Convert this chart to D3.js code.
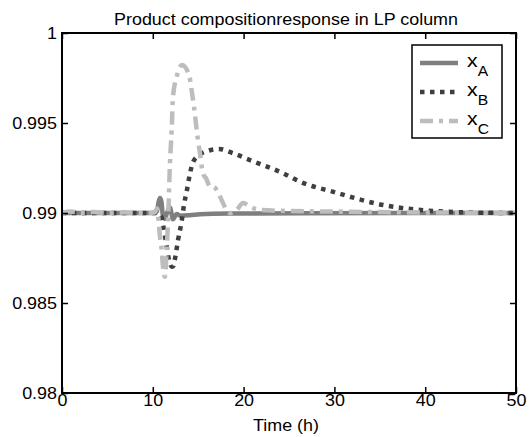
<!DOCTYPE html>
<html>
<head>
<meta charset="utf-8">
<script src="https://cdn.jsdelivr.net/npm/d3@7"></script>
<style>
  html, body { margin: 0; padding: 0; background: #fff; }
  text { font-family: "Liberation Sans", Arial, sans-serif; fill: #000; }
</style>
</head>
<body>
<div id="chart"></div>
<script>
// data
const xTicks = [0, 10, 20, 30, 40, 50];
const yTicks = [0.98, 0.985, 0.99, 0.995, 1];
const yTickLabels = ["0.98", "0.985", "0.99", "0.995", "1"];
const seriesNames = ["A", "B", "C"];

const tA = [0, 5, 10.2, 10.46, 10.63, 10.79, 10.96, 11.12, 11.34, 11.56, 11.89, 12.22, 12.63, 13.0, 14.1, 15.2, 18.5, 26.2, 50];
const xA = [0.99, 0.99, 0.99, 0.9901, 0.9906, 0.99083, 0.9906, 0.9898, 0.98968, 0.99, 0.9903, 0.98965, 0.98995, 0.98985, 0.98988, 0.98993, 0.98997, 0.98999, 0.99];

const tB = [0, 10.4, 10.8, 11.0, 11.15, 11.35, 11.55, 11.7, 11.9, 12.08, 12.25, 12.44, 12.78, 13.18, 13.45, 13.73, 14.1, 14.43, 15.2, 16.1, 17.3, 18.8, 20.7, 24.3, 26.2, 29.9, 35.4, 40.9, 45, 50];
const xB = [0.99, 0.99, 0.9899, 0.9897, 0.9893, 0.9887, 0.9881, 0.9876, 0.9872, 0.98702, 0.98705, 0.98745, 0.9885, 0.98955, 0.9905, 0.9912, 0.9922, 0.99283, 0.99325, 0.99346, 0.99356, 0.99333, 0.99294, 0.99222, 0.99174, 0.99117, 0.99044, 0.99011, 0.99003, 0.99];

const tC = [0, 1, 2, 3.5, 5, 7, 9, 10.2, 10.46, 10.79, 10.98, 11.12, 11.34, 11.53, 11.71, 11.89, 12.08, 12.22, 12.63, 13.22, 14.04, 14.28, 14.54, 14.76, 14.98, 15.2, 15.39, 15.6, 15.85, 16.3, 16.7, 17.04, 17.4, 18.14, 18.5, 19.24, 19.93, 20.7, 21.8, 25, 30, 35, 40, 50];
const xC = [0.99, 0.99008, 0.99002, 0.99006, 0.99, 0.99003, 0.99, 0.99003, 0.99025, 0.98868, 0.98794, 0.98702, 0.98646, 0.98794, 0.99, 0.99278, 0.99461, 0.99646, 0.99757, 0.99822, 0.99757, 0.9968, 0.99589, 0.99494, 0.99402, 0.9933, 0.99256, 0.9921, 0.99195, 0.99146, 0.99145, 0.99128, 0.99091, 0.99017, 0.99, 0.99017, 0.99056, 0.99035, 0.99017, 0.99011, 0.99008, 0.99005, 0.99003, 0.99];

const W = 529, H = 437;
const margin = {top: 33, right: 13, bottom: 44, left: 62};
const stretch = 1.12;

const svg = d3.select("#chart").append("svg")
  .attr("width", W)
  .attr("height", H);

const x = d3.scaleLinear().domain([0, 50]).range([margin.left, W - margin.right]);
const y = d3.scaleLinear().domain([0.98, 1]).range([H - margin.bottom, margin.top]);

const styles = {
  A: {color: "#7f7f7f", width: 4.5, dash: null},
  B: {color: "#3f3f3f", width: 4.5, dash: "4.5,5.5"},
  C: {color: "#bdbdbd", width: 4.5, dash: "13,6,4,6"}
};

svg.append("clipPath").attr("id", "plot-clip")
  .append("rect")
  .attr("x", x(0)).attr("y", y(1))
  .attr("width", x(50) - x(0)).attr("height", y(0.98) - y(1));

const line = d3.line()
  .x(d => x(d[0]))
  .y(d => y(d[1]))
  .curve(d3.curveMonotoneX);

const series = [
  {name: "A", data: d3.zip(tA, xA)},
  {name: "B", data: d3.zip(tB, xB)},
  {name: "C", data: d3.zip(tC, xC)}
];

svg.append("g").attr("clip-path", "url(#plot-clip)")
  .selectAll("path")
  .data(series)
  .enter().append("path")
  .attr("d", d => line(d.data))
  .attr("fill", "none")
  .attr("stroke", d => styles[d.name].color)
  .attr("stroke-width", d => styles[d.name].width)
  .attr("stroke-dasharray", d => styles[d.name].dash);

// axes, ticks inward on all four sides
const xAxis = d3.axisBottom(x).tickValues(xTicks).tickSize(-6).tickSizeOuter(0).tickPadding(1.5);
const yAxis = d3.axisLeft(y).tickValues(yTicks).tickSize(-6).tickSizeOuter(0).tickPadding(4.5)
  .tickFormat((d, i) => yTickLabels[i]);

const gx = svg.append("g")
  .attr("transform", "translate(0," + y(0.98) + ")")
  .call(xAxis);
const gy = svg.append("g")
  .attr("transform", "translate(" + x(0) + ",0)")
  .call(yAxis);
svg.append("g")
  .attr("transform", "translate(0," + y(1) + ")")
  .call(d3.axisTop(x).tickValues(xTicks).tickSize(-6).tickSizeOuter(0).tickFormat(""));
svg.append("g")
  .attr("transform", "translate(" + x(50) + ",0)")
  .call(d3.axisRight(y).tickValues(yTicks).tickSize(-6).tickSizeOuter(0).tickFormat(""));

svg.selectAll(".domain").remove();
svg.selectAll(".tick line").attr("stroke", "#000").attr("stroke-width", 1.5);
svg.selectAll(".tick text")
  .attr("font-size", 16)
  .attr("font-family", "'Liberation Sans', Arial, sans-serif")
  .attr("fill", "#000")
  .attr("transform", "scale(" + stretch + ",1)");

svg.append("rect")
  .attr("x", x(0)).attr("y", y(1))
  .attr("width", x(50) - x(0)).attr("height", y(0.98) - y(1))
  .attr("fill", "none")
  .attr("stroke", "#000")
  .attr("stroke-width", 2);

// title and axis label
function stretchedText(px, py, str, size) {
  return svg.append("text")
    .attr("transform", "translate(" + px + "," + py + ") scale(" + stretch + ",1)")
    .attr("text-anchor", "middle")
    .attr("font-size", size)
    .text(str);
}
stretchedText((x(0) + x(50)) / 2 - 3, 25, "Product compositionresponse in LP column", 16);
stretchedText((x(0) + x(50)) / 2 - 3, 431, "Time (h)", 16);

// legend
const legend = svg.append("g");
legend.append("rect")
  .attr("x", 412).attr("y", 45)
  .attr("width", 90).attr("height", 93)
  .attr("fill", "#fff")
  .attr("stroke", "#000")
  .attr("stroke-width", 1.5);

const legendItem = legend.selectAll(".item")
  .data(seriesNames)
  .enter().append("g")
  .attr("class", "item")
  .attr("transform", (d, i) => "translate(0," + (63 + i * 29) + ")");

legendItem.append("line")
  .attr("x1", 420).attr("x2", 458)
  .attr("y1", 0).attr("y2", 0)
  .attr("stroke", d => styles[d].color)
  .attr("stroke-width", d => styles[d].width)
  .attr("stroke-dasharray", d => styles[d].dash);

const lt = legendItem.append("text")
  .attr("transform", "translate(467,4) scale(" + stretch + ",1)")
  .attr("font-size", 19);
lt.append("tspan").text("x");
lt.append("tspan").attr("font-size", 14).attr("dy", 9).text(d => d);
</script>
</body>
</html>
